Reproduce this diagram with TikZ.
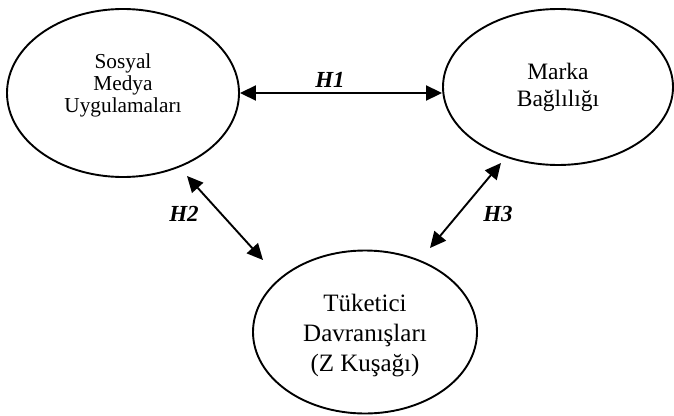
\documentclass[tikz,border=0pt]{standalone}
\usepackage{fontspec}
\setmainfont{Liberation Serif}
\usetikzlibrary{shapes.geometric,arrows.meta}
\begin{document}
\begin{tikzpicture}[x=1pt,y=-1pt,line width=1.9pt,
  oval/.style={draw,ellipse,inner sep=0pt,align=center},
  link/.style={{Triangle[length=16pt,width=15pt]}-{Triangle[length=16pt,width=15pt]}},
  hyp/.style={font=\fontsize{23}{26}\selectfont\bfseries\itshape}]
\useasboundingbox(0,0)rectangle(674,415);
\node[oval,minimum width=232,minimum height=168,text depth=20.5pt,font=\fontsize{21.3}{22}\selectfont](sma)at(123,93){Sosyal\\Medya\\Uygulamaları};
\node[oval,minimum width=230,minimum height=156,font=\fontsize{23.5}{27}\selectfont](mb)at(558,87){Marka\\Bağlılığı};
\node[oval,minimum width=224,minimum height=163,text height=85pt,font=\fontsize{25}{30}\selectfont](tkd)at(365,332){Tüketici\\Davranışları\\(Z Kuşağı)};
\coordinate(h2s)at(187,176);\coordinate(h2e)at(263,260);\coordinate(h3s)at(430,248);\coordinate(h3e)at(501,163);
\draw[link](sma.east)--(sma.east-|mb.west);\draw[link](h2s)--(h2e);\draw[link](h3s)--(h3e);
\foreach\n/\p in{1/{330,80},2/{184,214},3/{498,214}}{\node[hyp](h\n)at(\p){H\n};}
\end{tikzpicture}
\end{document}
